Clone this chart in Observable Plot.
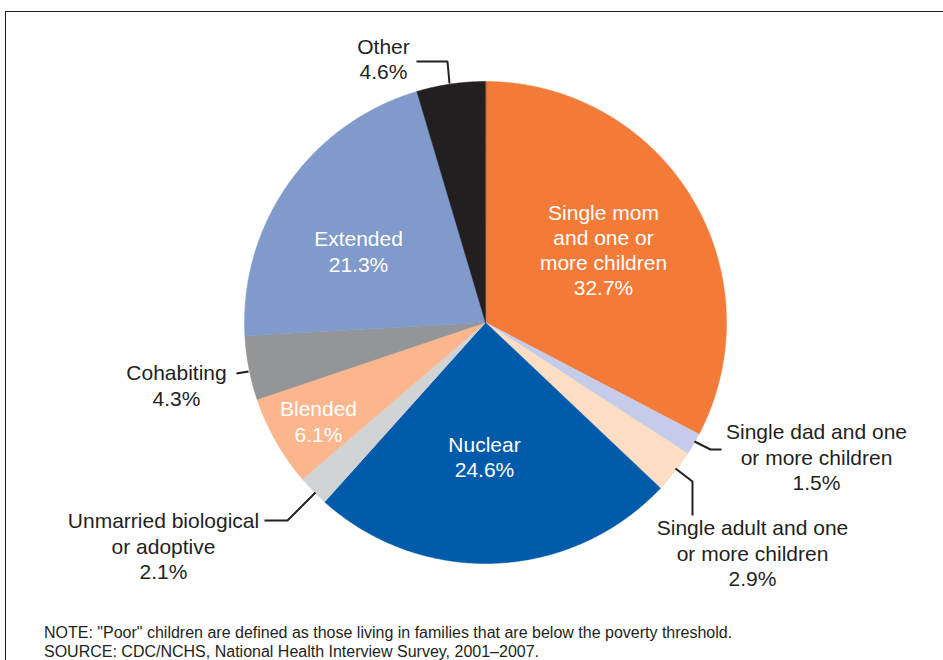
<!DOCTYPE html>
<html>
<head>
<meta charset="utf-8">
<script src="https://cdn.jsdelivr.net/npm/d3@7"></script>
<script src="https://cdn.jsdelivr.net/npm/@observablehq/plot@0.6"></script>
<style>
  html, body { margin: 0; padding: 0; background: #fff; overflow: hidden; }
  body { width: 943px; height: 660px; position: relative; font-family: "Liberation Sans", Arial, sans-serif; }
  #frame { position: absolute; left: 5px; top: 11px; width: 1000px; height: 700px; border: 1.5px solid #231F20; box-sizing: border-box; }
  #chart { position: absolute; left: 0; top: 0; }
  #caption { position: absolute; left: 44px; top: 624px; font-family: "Liberation Sans", Arial, sans-serif; font-size: 16px; line-height: 18.5px; color: #231F20; white-space: nowrap; }
</style>
</head>
<body>
<div id="frame"></div>
<div id="chart"></div>
<div id="caption">NOTE: "Poor" children are defined as those living in families that are below the poverty threshold.<br>SOURCE: CDC/NCHS, National Health Interview Survey, 2001–2007.</div>
<script>
// Data
const categories = [
  "Single mom and one or more children",
  "Single dad and one or more children",
  "Single adult and one or more children",
  "Nuclear",
  "Unmarried biological or adoptive",
  "Blended",
  "Cohabiting",
  "Extended",
  "Other"
];
const values = [32.7, 1.5, 2.9, 24.6, 2.1, 6.1, 4.3, 21.3, 4.6];
const labelNames = [
  "Single mom\nand one or\nmore children",
  "Single dad and one\nor more children",
  "Single adult and one\nor more children",
  "Nuclear",
  "Unmarried biological\nor adoptive",
  "Blended",
  "Cohabiting",
  "Extended",
  "Other"
];
const colors = ["#F47A38", "#C4CCEA", "#FDDDC4", "#005BAA", "#D1D3D4", "#FBB68D", "#939598", "#7F9ACB", "#231F20"];

// Layout (annotation placement, pixels)
const cx = 485, cy = 322, R = 241;
const toUX = px => (px - cx) / R;
const toUY = py => (cy - py) / R;
const labelLayout = [
  {px: 603, py: 249, inside: true},
  {px: 816, py: 456, inside: false},
  {px: 752, py: 552, inside: false},
  {px: 484, py: 456, inside: true},
  {px: 163, py: 545, inside: false},
  {px: 318, py: 420.5, inside: true},
  {px: 176, py: 384.5, inside: false},
  {px: 358, py: 250.5, inside: true},
  {px: 383, py: 58, inside: false}
];
const leaderLayout = [
  {cat: 1, pts: [[694, 441], [710, 449], [721, 449]]},
  {cat: 2, pts: [[675, 468], [692, 481], [692, 515]]},
  {cat: 4, pts: [[315, 492], [287, 520], [264, 520]]},
  {cat: 6, pts: [[236, 373], [248, 371]]},
  {cat: 8, pts: [[416, 61], [447, 61], [449, 83]]}
];

// Build slice polygons
const arcs = d3.pie().sort(null).value(d => d)(values);
const slicePts = [];
arcs.forEach((a, i) => {
  const name = categories[i];
  slicePts.push({name, x: 0, y: 0});
  const n = Math.max(2, Math.ceil((a.endAngle - a.startAngle) / 0.005));
  for (let k = 0; k <= n; k++) {
    const t = a.startAngle + (a.endAngle - a.startAngle) * k / n;
    slicePts.push({name, x: Math.sin(t), y: Math.cos(t)});
  }
});

const labels = categories.map((c, i) => ({
  text: labelNames[i] + "\n" + values[i].toFixed(1) + "%",
  x: toUX(labelLayout[i].px),
  y: toUY(labelLayout[i].py),
  inside: labelLayout[i].inside
}));

const leaderPts = [];
leaderLayout.forEach((l, j) => l.pts.forEach(p => leaderPts.push({id: j, x: toUX(p[0]), y: toUY(p[1])})));

const chart = Plot.plot({
  width: 943,
  height: 622,
  margin: 0,
  style: {fontFamily: '"Liberation Sans", Arial, sans-serif', background: "transparent"},
  x: {domain: [-1, 1], range: [cx - R, cx + R], axis: null},
  y: {domain: [-1, 1], range: [cy + R, cy - R], axis: null},
  color: {domain: categories, range: colors},
  marks: [
    Plot.line(slicePts, {x: "x", y: "y", z: "name", fill: "name", stroke: "name", strokeWidth: 0.5, curve: "linear-closed"}),
    Plot.line(leaderPts, {x: "x", y: "y", z: "id", stroke: "#231F20", strokeWidth: 2, strokeLinejoin: "miter", strokeLinecap: "butt"}),
    Plot.text(labels, {x: "x", y: "y", text: "text", fill: d => d.inside ? "#FFFFFF" : "#231F20", fontSize: 21, lineHeight: 1.2, lineAnchor: "middle", textAnchor: "middle"})
  ]
});
document.getElementById("chart").appendChild(chart);
</script>
</body>
</html>
